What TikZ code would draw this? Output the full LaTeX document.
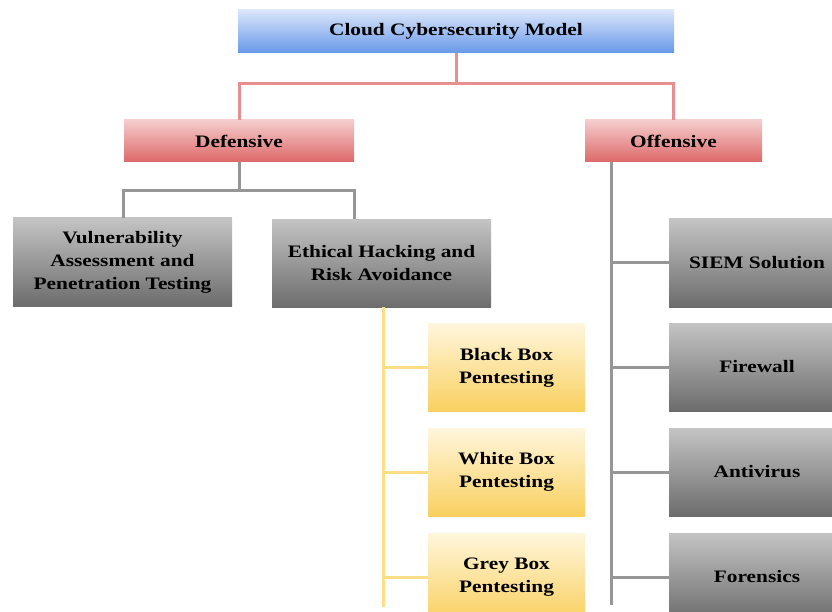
\documentclass[tikz,border=0pt]{standalone}
\usepackage{fontspec}
\setmainfont{Liberation Serif}[FakeStretch=1.22]
\usepackage{tikz}
\usetikzlibrary{positioning, calc}
\definecolor{bluetop}{RGB}{218,230,250}
\definecolor{bluebot}{RGB}{104,152,232}
\definecolor{redtop}{RGB}{245,205,205}
\definecolor{redbot}{RGB}{221,104,104}
\definecolor{greytop}{RGB}{196,196,196}
\definecolor{greybot}{RGB}{108,108,108}
\definecolor{yeltop}{RGB}{255,246,220}
\definecolor{yelbot}{RGB}{249,208,96}
\definecolor{redline}{RGB}{233,142,142}
\definecolor{greyline}{RGB}{150,150,150}
\definecolor{yelline}{RGB}{252,222,135}
\tikzset{%
  box/.style={rectangle, inner sep=2pt, align=center,
    font=\fontsize{17.5}{23}\selectfont\bfseries}, % every box of the chart
  topbox/.style={box, top color=bluetop, bottom color=bluebot,
    minimum width=436pt, minimum height=43pt},
  redbox/.style={box, top color=redtop, bottom color=redbot,
    minimum height=42pt},
  greybox/.style={box, top color=greytop, bottom color=greybot,
    minimum height=88pt},
  yelbox/.style={box, top color=yeltop, bottom color=yelbot,
    minimum width=157pt, minimum height=88pt},
  link/.style={line width=3pt}
}

\begin{document}
\begin{tikzpicture}[x=1pt, y=-1pt]
    \useasboundingbox (0,0) rectangle (832,612);

    \node[topbox] (model) at (456,31.5) {Cloud Cybersecurity Model};

    \node[redbox, minimum width=230pt] (def) at (239,141) {Defensive};
    \node[redbox, minimum width=177pt] (off) at (673.5,141) {Offensive};

    \node[greybox, minimum width=219pt] (vuln) at (122.5,262)
        {Vulnerability\\Assessment and\\Penetration Testing};
    \node[greybox, minimum width=219pt] (ethic) at (381.5,263.5)
        {Ethical Hacking and\\Risk Avoidance};

    \node[yelbox] (black) at (506.5,367.5) {Black Box\\Pentesting};
    \node[yelbox] (white) at (506.5,472) {White Box\\Pentesting};
    \node[yelbox] (grey) at (506.5,577) {Grey Box\\Pentesting};

    \node[greybox, minimum width=176pt] (siem) at (757,263) {SIEM Solution};
    \node[greybox, minimum width=176pt] (fire) at (757,367) {Firewall};
    \node[greybox, minimum width=176pt] (anti) at (757,472) {Antivirus};
    \node[greybox, minimum width=176pt] (fore) at (757,577) {Forensics};

    \coordinate (ytop) at (383,307);
    \coordinate (ytail) at (383,607);
    \coordinate (otop) at (611,162);
    \coordinate (otail) at (611,605);

    % top level
    \draw[link, redline] (model.south) -- ++(0,30) -| (def.north);
    \draw[link, redline] (model.south) -- ++(0,30) -| (off.north);

    % defensive branch
    \draw[link, greyline] (def.south) -- ++(0,28) -| (def.west |- vuln.north);
    \draw[link, greyline] (def.south) -- ++(0,28) -| (def.east |- ethic.north);

    % pentesting kinds
    \draw[link, yelline] (ytop) -- (ytail);
    \foreach \n in {black, white, grey}
        \draw[link, yelline] (ytop |- \n.west) -- (\n.west);

    % offensive branch
    \draw[link, greyline] (otop) -- (otail);
    \foreach \n in {siem, fire, anti, fore}
        \draw[link, greyline] (otop |- \n.west) -- (\n.west);
\end{tikzpicture}
\end{document}
